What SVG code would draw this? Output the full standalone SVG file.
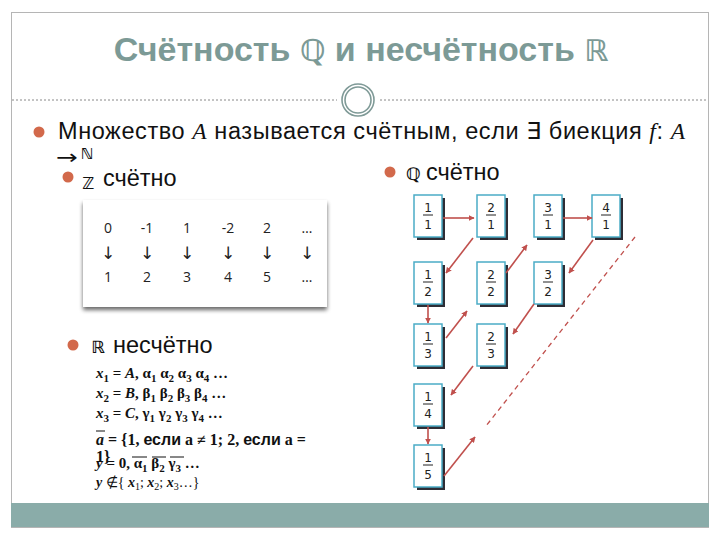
<svg xmlns="http://www.w3.org/2000/svg" width="720" height="540" viewBox="0 0 720 540">
<defs>
<style>
.sans{font-family:"Liberation Sans","DejaVu Sans",sans-serif}
.ds{font-family:"DejaVu Sans",sans-serif}
.ser{font-family:"Liberation Serif","DejaVu Serif",serif}
.body{font-size:23.5px;fill:#111}
.bul{fill:#d2694b}
.tb{font-family:"Open Sans","Liberation Sans",sans-serif;font-size:14px;fill:#222;text-anchor:middle}
.dn{font-family:"DejaVu Sans",sans-serif;font-size:17px;fill:#222;text-anchor:middle}
.fx{font-family:"Liberation Serif",serif;font-size:15px;font-weight:bold;fill:#111}
.box rect.b{fill:#fff;stroke:#4bacc6;stroke-width:1.5}
.box rect.s{fill:#2d2d35}
.fr{font-family:"DejaVu Sans","Liberation Sans",sans-serif;font-size:12px;fill:#222;text-anchor:middle}
.ar{stroke:#c0504d;stroke-width:1.6;fill:none;marker-end:url(#ah)}
</style>
<marker id="ah" viewBox="0 0 10 10" refX="9" refY="5" markerWidth="6" markerHeight="6" orient="auto" markerUnits="userSpaceOnUse">
<path d="M0,0 L10,5 L0,10 z" fill="#c0504d"/>
</marker>
<filter id="sh" x="-10%" y="-10%" width="120%" height="130%">
<feGaussianBlur in="SourceAlpha" stdDeviation="2"/>
<feOffset dx="0" dy="3"/>
<feComponentTransfer><feFuncA type="linear" slope="0.6"/></feComponentTransfer>
<feMerge><feMergeNode/><feMergeNode in="SourceGraphic"/></feMerge>
</filter>
</defs>
<rect width="720" height="540" fill="#fff"/>
<rect x="11.5" y="12.5" width="697" height="515" fill="#fff" stroke="#b5b5b5" stroke-width="1"/>
<rect x="11" y="503" width="698" height="24" fill="#8aaca9"/>
<g id="title">
<text x="361" y="61" text-anchor="middle" class="sans" font-size="34" font-weight="bold" fill="#7c9a96">Счётность <tspan class="ds" font-weight="bold" font-size="30">ℚ</tspan> и несчётность <tspan class="ds" font-weight="bold" font-size="30">ℝ</tspan></text>
</g>
<g id="divider">
<line x1="12" y1="100" x2="337" y2="100" stroke="#888" stroke-width="1" stroke-dasharray="2,2"/>
<line x1="380" y1="100" x2="708" y2="100" stroke="#888" stroke-width="1" stroke-dasharray="2,2"/>
<circle cx="358" cy="100" r="16" fill="#fff" stroke="#7f9a97" stroke-width="1.6"/>
<circle cx="358" cy="100" r="13" fill="none" stroke="#7f9a97" stroke-width="1.6"/>
</g>
<g id="def">
<circle cx="39" cy="132" r="5.5" class="bul"/>
<text x="58" y="139" class="sans body" textLength="627" lengthAdjust="spacing">Множество <tspan class="ser" font-style="italic">A</tspan> называется счётным, если  ∃ биекция <tspan class="ser" font-style="italic">f</tspan>: <tspan class="ser" font-style="italic">A</tspan></text>
<text transform="translate(56,164) scale(1.45,1.1)" class="ds" font-size="18" fill="#111">→&#xFE0E;</text>
<text x="81" y="159" class="ds" font-size="15" font-weight="bold" fill="#111">ℕ</text>
</g>
<g id="Z">
<circle cx="68" cy="177" r="5.5" class="bul"/>
<text x="82" y="189" class="ds" font-size="16" font-weight="bold" fill="#111">ℤ</text>
<text x="103" y="186" class="sans body">счётно</text>
</g>
<g id="Q">
<circle cx="390" cy="172" r="5.5" class="bul"/>
<text x="406" y="180" class="ds" font-size="17" font-weight="bold" fill="#111">ℚ</text>
<text x="426" y="180" class="sans body">счётно</text>
</g>
<g id="table">
<rect x="83" y="200" width="244" height="107" fill="#fff" filter="url(#sh)"/>
<g class="tb">
<text x="108" y="233">0</text><text x="147" y="233">-1</text><text x="187" y="233">1</text><text x="228" y="233">-2</text><text x="267" y="233">2</text><text x="307" y="233">…</text>
<text x="108" y="282">1</text><text x="147" y="282">2</text><text x="187" y="282">3</text><text x="228" y="282">4</text><text x="267" y="282">5</text><text x="307" y="282">…</text>
</g>
<g class="dn">
<text x="108" y="259">↓&#xFE0E;</text><text x="147" y="259">↓&#xFE0E;</text><text x="187" y="259">↓&#xFE0E;</text><text x="228" y="259">↓&#xFE0E;</text><text x="267" y="259">↓&#xFE0E;</text><text x="307" y="259">↓&#xFE0E;</text>
</g>
</g>
<g id="R">
<circle cx="73" cy="345" r="5.5" class="bul"/>
<text x="91" y="353" class="ds" font-size="17" font-weight="bold" fill="#111">ℝ</text>
<text x="113" y="353" class="sans body">несчётно</text>
</g>
<g id="proof" class="fx">
<text x="96" y="378"><tspan font-style="italic">x</tspan><tspan font-size="11" dy="4">1</tspan><tspan dy="-4"> = </tspan><tspan font-style="italic">A</tspan>, α<tspan font-size="11" dy="4">1</tspan><tspan dy="-4"> α</tspan><tspan font-size="11" dy="4">2</tspan><tspan dy="-4"> α</tspan><tspan font-size="11" dy="4">3</tspan><tspan dy="-4"> α</tspan><tspan font-size="11" dy="4">4</tspan><tspan dy="-4"> …</tspan></text>
<text x="96" y="398"><tspan font-style="italic">x</tspan><tspan font-size="11" dy="4">2</tspan><tspan dy="-4"> = </tspan><tspan font-style="italic">B</tspan>, β<tspan font-size="11" dy="4">1</tspan><tspan dy="-4"> β</tspan><tspan font-size="11" dy="4">2</tspan><tspan dy="-4"> β</tspan><tspan font-size="11" dy="4">3</tspan><tspan dy="-4"> β</tspan><tspan font-size="11" dy="4">4</tspan><tspan dy="-4"> …</tspan></text>
<text x="96" y="418"><tspan font-style="italic">x</tspan><tspan font-size="11" dy="4">3</tspan><tspan dy="-4"> = </tspan><tspan font-style="italic">C</tspan>, γ<tspan font-size="11" dy="4">1</tspan><tspan dy="-4"> γ</tspan><tspan font-size="11" dy="4">2</tspan><tspan dy="-4"> γ</tspan><tspan font-size="11" dy="4">3</tspan><tspan dy="-4"> γ</tspan><tspan font-size="11" dy="4">4</tspan><tspan dy="-4"> …</tspan></text>
<line x1="96" y1="431" x2="105" y2="431" stroke="#111" stroke-width="1"/>
<text x="96" y="445" font-size="16"><tspan font-style="italic">a</tspan> = {1, <tspan class="sans">если</tspan> a ≠ 1;  2, <tspan class="sans">если</tspan> a  =</text>
<text x="96" y="462" font-size="16">1}</text>
<text x="96" y="468"><tspan font-style="italic">y</tspan> = 0, α<tspan font-size="11" dy="4">1</tspan><tspan dy="-4"> β</tspan><tspan font-size="11" dy="4">2</tspan><tspan dy="-4"> γ</tspan><tspan font-size="11" dy="4">3</tspan><tspan dy="-4"> …</tspan></text>
<line x1="132" y1="457" x2="147" y2="457" stroke="#111" stroke-width="1"/>
<line x1="152" y1="457" x2="166" y2="457" stroke="#111" stroke-width="1"/>
<line x1="170" y1="457" x2="184" y2="457" stroke="#111" stroke-width="1"/>
<text x="96" y="487" font-weight="normal" font-size="14"><tspan font-style="italic" font-weight="bold">y</tspan> ∉{ <tspan font-style="italic" font-weight="bold">x</tspan><tspan font-size="10" dy="3">1</tspan><tspan dy="-3">; </tspan><tspan font-style="italic" font-weight="bold">x</tspan><tspan font-size="10" dy="3">2</tspan><tspan dy="-3">; </tspan><tspan font-style="italic" font-weight="bold">x</tspan><tspan font-size="10" dy="3">3</tspan><tspan dy="-3">…}</tspan></text>
</g>
<g id="n11" class="box"><rect class="s" x="417" y="198" width="28" height="42"/><rect class="b" x="414" y="195" width="28" height="42"/><text class="fr" x="428" y="212">1</text><line x1="423" y1="215" x2="433" y2="215" stroke="#222"/><text class="fr" x="428" y="229">1</text></g>
<g id="n21" class="box"><rect class="s" x="480" y="198" width="28" height="42"/><rect class="b" x="477" y="195" width="28" height="42"/><text class="fr" x="491" y="212">2</text><line x1="486" y1="215" x2="496" y2="215" stroke="#222"/><text class="fr" x="491" y="229">1</text></g>
<g id="n31" class="box"><rect class="s" x="537" y="198" width="28" height="42"/><rect class="b" x="534" y="195" width="28" height="42"/><text class="fr" x="548" y="212">3</text><line x1="543" y1="215" x2="553" y2="215" stroke="#222"/><text class="fr" x="548" y="229">1</text></g>
<g id="n41" class="box"><rect class="s" x="595" y="198" width="28" height="42"/><rect class="b" x="592" y="195" width="28" height="42"/><text class="fr" x="606" y="212">4</text><line x1="601" y1="215" x2="611" y2="215" stroke="#222"/><text class="fr" x="606" y="229">1</text></g>
<g id="n12" class="box"><rect class="s" x="417" y="265" width="28" height="42"/><rect class="b" x="414" y="262" width="28" height="42"/><text class="fr" x="428" y="279">1</text><line x1="423" y1="282" x2="433" y2="282" stroke="#222"/><text class="fr" x="428" y="296">2</text></g>
<g id="n22" class="box"><rect class="s" x="480" y="265" width="28" height="42"/><rect class="b" x="477" y="262" width="28" height="42"/><text class="fr" x="491" y="279">2</text><line x1="486" y1="282" x2="496" y2="282" stroke="#222"/><text class="fr" x="491" y="296">2</text></g>
<g id="n32" class="box"><rect class="s" x="537" y="265" width="28" height="42"/><rect class="b" x="534" y="262" width="28" height="42"/><text class="fr" x="548" y="279">3</text><line x1="543" y1="282" x2="553" y2="282" stroke="#222"/><text class="fr" x="548" y="296">2</text></g>
<g id="n13" class="box"><rect class="s" x="417" y="327" width="28" height="42"/><rect class="b" x="414" y="324" width="28" height="42"/><text class="fr" x="428" y="341">1</text><line x1="423" y1="344" x2="433" y2="344" stroke="#222"/><text class="fr" x="428" y="358">3</text></g>
<g id="n23" class="box"><rect class="s" x="480" y="327" width="28" height="42"/><rect class="b" x="477" y="324" width="28" height="42"/><text class="fr" x="491" y="341">2</text><line x1="486" y1="344" x2="496" y2="344" stroke="#222"/><text class="fr" x="491" y="358">3</text></g>
<g id="n14" class="box"><rect class="s" x="417" y="387" width="28" height="42"/><rect class="b" x="414" y="384" width="28" height="42"/><text class="fr" x="428" y="401">1</text><line x1="423" y1="404" x2="433" y2="404" stroke="#222"/><text class="fr" x="428" y="418">4</text></g>
<g id="n15" class="box"><rect class="s" x="417" y="448" width="28" height="42"/><rect class="b" x="414" y="445" width="28" height="42"/><text class="fr" x="428" y="462">1</text><line x1="423" y1="465" x2="433" y2="465" stroke="#222"/><text class="fr" x="428" y="479">5</text></g>
<g id="connectors">
<line class="ar" x1="443" y1="218" x2="474" y2="218"/>
<line class="ar" x1="473" y1="238" x2="446" y2="273"/>
<line class="ar" x1="428" y1="305" x2="428" y2="323"/>
<line class="ar" x1="446" y1="338" x2="467" y2="311"/>
<line class="ar" x1="506" y1="273" x2="527" y2="245"/>
<line class="ar" x1="563" y1="218" x2="592" y2="218"/>
<line class="ar" x1="593" y1="240" x2="569" y2="273"/>
<line class="ar" x1="534" y1="304" x2="513" y2="334"/>
<line class="ar" x1="473" y1="366" x2="451" y2="395"/>
<line class="ar" x1="428" y1="427" x2="428" y2="444"/>
<line class="ar" x1="444" y1="476" x2="475" y2="437"/>
<line x1="635" y1="237" x2="486" y2="426" stroke="#c0504d" stroke-width="1.3" stroke-dasharray="5,4"/>
</g>
</svg>
